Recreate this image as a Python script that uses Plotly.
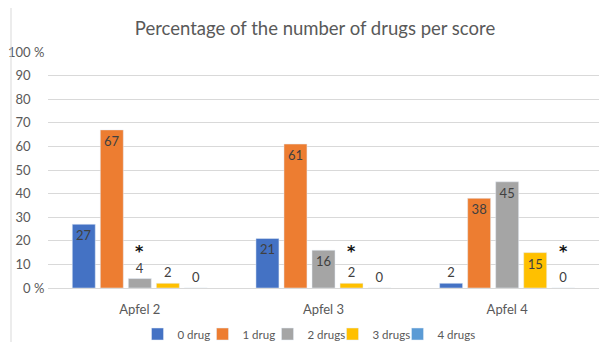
import plotly.graph_objects as go

categories = ["Apfel 2", "Apfel 3", "Apfel 4"]
series_names = ["0 drug", "1 drug", "2 drugs", "3 drugs", "4 drugs"]
values_0 = [27, 21, 2]
values_1 = [67, 61, 38]
values_2 = [4, 16, 45]
values_3 = [2, 2, 15]
values_4 = [0, 0, 0]
series_values = [values_0, values_1, values_2, values_3, values_4]
colors = ["#4472C4", "#ED7D31", "#A5A5A5", "#FFC000", "#5B9BD5"]
# significance markers: (category, series index)
asterisks = [("Apfel 2", 2), ("Apfel 3", 3), ("Apfel 4", 4)]
y_tickvals = [0, 10, 20, 30, 40, 50, 60, 70, 80, 90, 100]
y_ticklabels = ["0", "10", "20", "30", "40", "50", "60", "70", "80", "90", "100"]

W, H = 605, 342
ml, mr, mt, mb = 48, 6, 52, 54
bargap = 0.237
font = "Lato"
txt_col = "#404040"
axis_col = "#595959"

# percent sign only on the end ticks; invisible padding keeps numbers aligned
hidden_pct = '<span style="color:rgba(0,0,0,0)"> %</span>'
y_ticktext = [t + (" %" if v in (0, 100) else hidden_pct)
              for t, v in zip(y_ticklabels, y_tickvals)]

fig = go.Figure()
for i, (name, vals, col) in enumerate(zip(series_names, series_values, colors)):
    pos = ["inside" if v >= 10 else "outside" for v in vals]
    fig.add_trace(go.Bar(
        name=name, x=categories, y=vals, marker_color=col,
        text=[str(v) for v in vals], textposition=pos,
        insidetextanchor="end", textangle=0,
        textfont=dict(family=font, size=13, color=txt_col),
        outsidetextfont=dict(family=font, size=13, color=txt_col),
        insidetextfont=dict(family=font, size=13, color=txt_col),
        cliponaxis=False,
        legendwidth=44 if i == len(series_names) - 1 else None,
    ))

# asterisk annotations positioned over the corresponding bar slot
plot_w = W - ml - mr
plot_h = H - mt - mb
cat_w = plot_w / len(categories)
slot = cat_w * (1 - bargap) / len(series_names)
for cat, idx in asterisks:
    fig.add_annotation(
        x=cat, y=10.5, xref="x", yref="y", text="<b>*</b>", showarrow=False,
        yanchor="bottom",
        xshift=(idx - (len(series_names) - 1) / 2) * slot,
        font=dict(family="DejaVu Sans", size=16, color="#111111"),
    )

# outer chart border (left edge)
fig.add_shape(type="line", xref="paper", yref="paper",
              x0=(11 - ml) / plot_w, x1=(11 - ml) / plot_w,
              y0=-mb / plot_h, y1=(plot_h + mt - 8) / plot_h,
              line=dict(color="#d9d9d9", width=1))

fig.update_layout(
    width=W, height=H,
    margin=dict(l=ml, r=mr, t=mt, b=mb, autoexpand=False),
    paper_bgcolor="white", plot_bgcolor="white",
    barmode="group", bargap=bargap, bargroupgap=0.18,
    font=dict(family=font, size=13, color=axis_col),
    title=dict(text="Percentage of the number of drugs per score",
               x=315 / W, xanchor="center", xref="container",
               y=1 - 29 / H, yanchor="middle", yref="container",
               font=dict(family=font, size=18.5, color=axis_col)),
    showlegend=True,
    legend=dict(orientation="h", x=312 / W, xanchor="center", xref="container",
                y=1 - 334 / H, yanchor="middle", yref="container",
                entrywidth=20, entrywidthmode="pixels",
                font=dict(family=font, size=11.5, color=axis_col),
                itemclick=False, traceorder="normal"),
    xaxis=dict(showgrid=False, showline=True, linecolor="#d9d9d9",
               ticks="outside", ticklen=9, tickcolor="rgba(0,0,0,0)",
               tickfont=dict(family=font, size=13, color=axis_col)),
    yaxis=dict(range=[0, 100], tickvals=y_tickvals, ticktext=y_ticktext,
               showgrid=True, gridcolor="#d9d9d9", gridwidth=1,
               zeroline=False, showline=False,
               ticks="outside", ticklen=0, tickcolor="rgba(0,0,0,0)",
               tickfont=dict(family=font, size=13, color=axis_col)),
)

fig.write_html("out.html")
